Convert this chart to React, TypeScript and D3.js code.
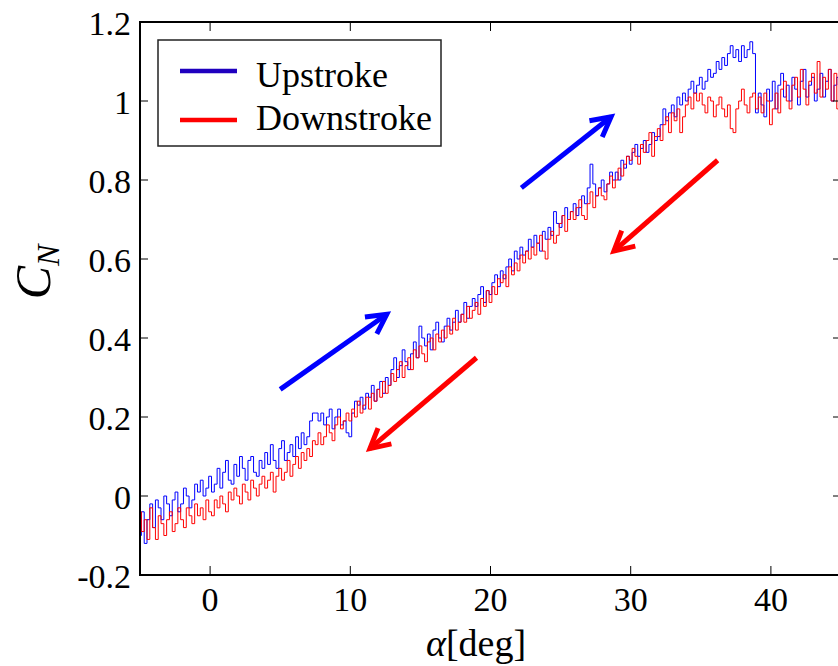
import React from "react";
import * as d3 from "d3";

// angle of attack sampling: -5 deg .. 45 deg, every 0.2 deg
const alphaStart = -5;
const alphaStep = 0.2;

// normal force coefficient, upstroke (blue)
const upstroke = [
  -0.10, -0.04, -0.12, -0.06, -0.02,
  -0.08, -0.01, -0.03, -0.06, 0.00,
  -0.02, -0.05, -0.01, 0.01, -0.04,
  -0.02, 0.02, 0.00, -0.03, -0.01,
  0.03, 0.01, 0.04, 0.00, 0.02,
  0.05, 0.01, 0.03, 0.07, 0.02,
  0.06, 0.09, 0.04, 0.03, 0.08,
  0.05, 0.10, 0.07, 0.04, 0.09,
  0.10, 0.06, 0.05, 0.09, 0.07,
  0.11, 0.08, 0.13, 0.09, 0.07,
  0.12, 0.14, 0.09, 0.11, 0.13,
  0.10, 0.15, 0.12, 0.16, 0.13,
  0.15, 0.19, 0.21, 0.21, 0.19,
  0.21, 0.18, 0.20, 0.22, 0.17,
  0.20, 0.22, 0.18, 0.19, 0.16,
  0.15, 0.21, 0.24, 0.23, 0.25,
  0.22, 0.26, 0.25, 0.28, 0.24,
  0.27, 0.29, 0.26, 0.30, 0.28,
  0.32, 0.35, 0.30, 0.33, 0.37,
  0.34, 0.32, 0.36, 0.39, 0.35,
  0.43, 0.40, 0.38, 0.41, 0.37,
  0.42, 0.44, 0.40, 0.39, 0.43,
  0.45, 0.42, 0.44, 0.47, 0.44,
  0.46, 0.49, 0.45, 0.48, 0.50,
  0.48, 0.51, 0.53, 0.49, 0.52,
  0.51, 0.54, 0.56, 0.53, 0.57,
  0.55, 0.58, 0.60, 0.57, 0.62,
  0.60, 0.63, 0.61, 0.62, 0.65,
  0.63, 0.66, 0.64, 0.62, 0.67,
  0.65, 0.68, 0.66, 0.72, 0.69,
  0.68, 0.71, 0.73, 0.70, 0.72,
  0.74, 0.71, 0.73, 0.76, 0.74,
  0.78, 0.84, 0.79, 0.76, 0.78,
  0.80, 0.77, 0.79, 0.82, 0.80,
  0.82, 0.80, 0.85, 0.83, 0.86,
  0.84, 0.87, 0.89, 0.86, 0.88,
  0.90, 0.87, 0.89, 0.92, 0.90,
  0.91, 0.94, 0.98, 0.95, 0.97,
  0.99, 0.96, 1.01, 0.99, 1.02,
  1.00, 1.03, 1.05, 1.02, 1.04,
  1.06, 1.03, 1.05, 1.08, 1.06,
  1.07, 1.10, 1.08, 1.11, 1.09,
  1.12, 1.14, 1.11, 1.13, 1.10,
  1.14, 1.11, 1.13, 1.15, 1.12,
  0.97, 1.02, 0.99, 0.96, 1.03,
  1.00, 1.05, 0.98, 1.04, 1.07,
  1.01, 1.04, 1.00, 1.06, 1.03,
  0.99, 1.05, 1.08, 1.01, 1.04,
  1.06, 1.00, 1.03, 1.07, 1.01,
  1.05, 1.08, 1.00, 1.04, 1.06,
  1.03,
];

// normal force coefficient, downstroke (red)
const downstroke = [
  -0.04, -0.09, -0.06, -0.11, -0.03,
  -0.08, -0.11, -0.05, -0.07, -0.10,
  -0.06, -0.04, -0.09, -0.07, -0.03,
  -0.06, -0.08, -0.03, -0.05, -0.07,
  -0.02, -0.05, -0.03, -0.06, -0.01,
  -0.04, -0.05, -0.01, -0.03, 0.00,
  -0.02, -0.04, 0.01, -0.01, 0.02,
  0.00, -0.02, 0.03, 0.01, -0.01,
  0.04, 0.02, 0.00, 0.03, 0.05,
  0.02, 0.04, 0.06, 0.01, 0.05,
  0.07, 0.04, 0.06, 0.09, 0.05,
  0.08, 0.10, 0.07, 0.11, 0.09,
  0.12, 0.10, 0.14, 0.13, 0.16,
  0.13, 0.15, 0.18, 0.16, 0.14,
  0.18, 0.20, 0.17, 0.19, 0.21,
  0.19, 0.22, 0.20, 0.24, 0.21,
  0.23, 0.25, 0.22, 0.26, 0.24,
  0.27, 0.25, 0.29, 0.26, 0.28,
  0.31, 0.29, 0.32, 0.34, 0.30,
  0.33, 0.35, 0.32, 0.37, 0.35,
  0.38, 0.36, 0.34, 0.39, 0.40,
  0.37, 0.41, 0.39, 0.42, 0.40,
  0.43, 0.41, 0.45, 0.42, 0.44,
  0.46, 0.44, 0.48, 0.45, 0.47,
  0.49, 0.46, 0.50, 0.48, 0.52,
  0.49, 0.53, 0.51, 0.55, 0.54,
  0.56, 0.53, 0.58, 0.56, 0.59,
  0.57, 0.61, 0.59, 0.62, 0.60,
  0.63, 0.61, 0.64, 0.66, 0.62,
  0.60, 0.65, 0.67, 0.64, 0.66,
  0.69, 0.71, 0.67, 0.70, 0.72,
  0.70, 0.73, 0.75, 0.71, 0.70,
  0.74, 0.77, 0.73, 0.76, 0.78,
  0.76, 0.75, 0.79, 0.81, 0.78,
  0.80, 0.83, 0.81, 0.84, 0.86,
  0.85, 0.88, 0.86, 0.84, 0.89,
  0.87, 0.90, 0.92, 0.86, 0.91,
  0.93, 0.90, 0.94, 0.96, 0.92,
  0.97, 0.95, 0.98, 0.92, 0.96,
  0.99, 1.01, 0.98, 1.02, 1.00,
  1.02, 0.99, 0.97, 1.01, 1.00,
  0.96, 0.99, 1.01, 0.98, 0.96,
  0.99, 0.93, 0.92, 0.98, 1.00,
  1.03, 0.99, 0.97, 1.01, 1.02,
  0.98, 1.01, 0.97, 1.02, 1.00,
  0.94, 0.98, 1.02, 0.97, 1.03,
  1.05, 1.00, 0.98, 1.04, 1.06,
  1.01, 1.08, 1.03, 0.99, 1.05,
  1.07, 1.02, 1.10, 1.01, 1.06,
  1.03, 1.08, 1.00, 1.07, 0.98,
  1.05,
];

const xTicks = [0, 10, 20, 30, 40];
const yTicks = [-0.2, 0, 0.2, 0.4, 0.6, 0.8, 1, 1.2];
const yTickLabels = ["-0.2", "0", "0.2", "0.4", "0.6", "0.8", "1", "1.2"];

const seriesNames = ["Upstroke", "Downstroke"];

// direction arrows, in data units: [x0, y0, x1, y1]
const arrowsUp = [
  [5.0, 0.27, 12.6, 0.46],
  [22.2, 0.78, 28.6, 0.96],
];
const arrowsDown = [
  [19.0, 0.35, 11.4, 0.12],
  [36.2, 0.85, 28.8, 0.62],
];

const W = 838,
  H = 666;
const plot = { left: 140, right: 841, top: 22, bottom: 575 };
const font = "'Liberation Serif', 'Times New Roman', serif";

const App = () => {
  const x = d3.scaleLinear().domain([-5, 45]).range([plot.left, plot.right]);
  const y = d3.scaleLinear().domain([-0.2, 1.2]).range([plot.bottom, plot.top]);

  const line = d3
    .line<number>()
    .x((d, i) => x(alphaStart + i * alphaStep))
    .y((d) => y(d))
    .curve(d3.curveStep);

  const arrow = (a: number[], color: string, key: string) => {
    const x0 = x(a[0]),
      y0 = y(a[1]),
      x1 = x(a[2]),
      y1 = y(a[3]);
    const ang = Math.atan2(y1 - y0, x1 - x0);
    const len = 22,
      spread = (28 * Math.PI) / 180;
    const w1 = [x1 - len * Math.cos(ang - spread), y1 - len * Math.sin(ang - spread)];
    const w2 = [x1 - len * Math.cos(ang + spread), y1 - len * Math.sin(ang + spread)];
    return (
      <g key={key} stroke={color} strokeWidth={5} fill="none" strokeLinecap="butt">
        <line x1={x0} y1={y0} x2={x1} y2={y1} />
        <polyline points={`${w1[0]},${w1[1]} ${x1},${y1} ${w2[0]},${w2[1]}`} strokeLinejoin="miter" />
      </g>
    );
  };

  return (
    <svg
      width={W}
      height={H}
      style={{ position: "absolute", left: 0, top: 0, background: "#fff" }}
      fontFamily={font}
    >
      <defs>
        <clipPath id="plotclip">
          <rect x={plot.left} y={plot.top} width={plot.right - plot.left} height={plot.bottom - plot.top} />
        </clipPath>
      </defs>

      <g clipPath="url(#plotclip)">
        <path d={line(upstroke) || ""} fill="none" stroke="#0000ff" strokeWidth={1} />
        <path d={line(downstroke) || ""} fill="none" stroke="#ff0000" strokeWidth={1} />
      </g>

      {arrowsUp.map((a, i) => arrow(a, "#0000ff", "u" + i))}
      {arrowsDown.map((a, i) => arrow(a, "#ff0000", "d" + i))}

      {/* frame */}
      <rect
        x={plot.left}
        y={plot.top}
        width={plot.right - plot.left}
        height={plot.bottom - plot.top}
        fill="none"
        stroke="#000"
        strokeWidth={2}
      />

      {/* ticks */}
      {xTicks.map((t) => (
        <g key={"xt" + t}>
          <line x1={x(t)} x2={x(t)} y1={plot.bottom} y2={plot.bottom - 9} stroke="#000" strokeWidth={1} />
          <line x1={x(t)} x2={x(t)} y1={plot.top} y2={plot.top + 9} stroke="#000" strokeWidth={1} />
          <text x={x(t)} y={611} textAnchor="middle" fontSize={34}>
            {t}
          </text>
        </g>
      ))}
      {yTicks.map((t, i) => (
        <g key={"yt" + t}>
          <line x1={plot.left} x2={plot.left + 8} y1={y(t)} y2={y(t)} stroke="#000" strokeWidth={1} />
          <line x1={plot.right} x2={plot.right - 8} y1={y(t)} y2={y(t)} stroke="#000" strokeWidth={1} />
          <text x={131} y={y(t) + 13} textAnchor="end" fontSize={34}>
            {yTickLabels[i]}
          </text>
        </g>
      ))}

      {/* legend */}
      <g>
        <rect x={158} y={40} width={283} height={106} fill="#fff" stroke="#222" strokeWidth={1.5} />
        <line x1={180} x2={237} y1={71} y2={71} stroke="#1f00bf" strokeWidth={4.5} />
        <line x1={180} x2={237} y1={120} y2={120} stroke="#ff0000" strokeWidth={4.5} />
        <text x={256} y={87} fontSize={36}>
          {seriesNames[0]}
        </text>
        <text x={256} y={130} fontSize={36}>
          {seriesNames[1]}
        </text>
      </g>

      {/* axis labels */}
      <text x={476} y={656} textAnchor="middle" fontSize={38}>
        <tspan fontStyle="italic">α</tspan>
        <tspan>[deg]</tspan>
      </text>
      <text transform="translate(50,272) rotate(-90)" textAnchor="middle" fontSize={50}>
        <tspan fontStyle="italic">C</tspan>
        <tspan fontStyle="italic" fontSize={32} dy={9}>
          N
        </tspan>
      </text>
    </svg>
  );
};

export default App;
